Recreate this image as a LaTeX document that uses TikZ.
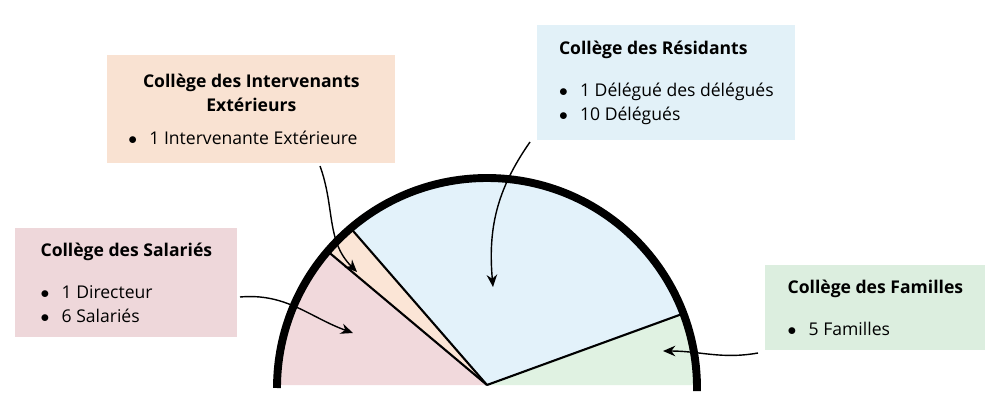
\documentclass[tikz,border=0pt]{standalone}
\usepackage{fontspec}
\setmainfont{Open Sans}
\usetikzlibrary{arrows.meta,calc}
\definecolor{peachbox}{HTML}{F9E2D2}
\definecolor{bluebox}{HTML}{E2F1F8}
\definecolor{pinkbox}{HTML}{EED7DA}
\definecolor{greenbox}{HTML}{DCEEDF}
\definecolor{pinkpart}{HTML}{F1D9DC}
\definecolor{peachpart}{HTML}{FBE5D6}
\definecolor{bluepart}{HTML}{E3F2FA}
\definecolor{greenpart}{HTML}{E0F2E2}
\tikzset{
  college/.style={anchor=north west, inner xsep=10pt, inner ysep=8pt, align=left,
    font=\fontsize{10}{14}\selectfont},
  pointer/.style={-{Stealth[length=7pt,width=6pt]}, line width=0.8pt}
}
\newcommand{\itm}[1]{$\bullet$\hspace{7pt}#1}
\begin{document}
\begin{tikzpicture}[x=0.02cm, y=-0.02cm]
  \useasboundingbox (0,0) rectangle (1000,405);
  % half disc (y axis points down, so angles go the other way)
  \coordinate (O) at (487,385);
  \fill[pinkpart] (O) -- (277,385) arc[start angle=180, end angle=220, radius=210] -- cycle;
  \fill[peachpart] (O) -- ($(O)+(220:210)$) arc[start angle=220, end angle=229, radius=210] -- cycle;
  \fill[bluepart] (O) -- ($(O)+(229:210)$) arc[start angle=229, end angle=340, radius=210] -- cycle;
  \fill[greenpart] (O) -- ($(O)+(340:210)$) arc[start angle=340, end angle=360, radius=210] -- cycle;
  \foreach \a in {220,229,340}
    \draw[line width=1.2pt] (O) -- ($(O)+(\a:210)$);
  \draw[line width=4.5pt] (277,388) arc[start angle=180, end angle=360, radius=210] -- ++(0,3);
  % boxes
  \node[college, fill=peachbox, minimum width=288*0.02cm, minimum height=108*0.02cm] (ext) at (107,55)
    {\parbox{140pt}{\centering\textbf{Collège des Intervenants\\Extérieurs}}\\[10pt]\itm{1 Intervenante Extérieure}};
  \node[college, fill=bluebox, minimum width=258*0.02cm, minimum height=115*0.02cm] (res) at (537,25)
    {\textbf{Collège des Résidants}\\[10pt]\itm{1 Délégué des délégués}\\\itm{10 Délégués}};
  \node[college, fill=pinkbox, minimum width=222*0.02cm, minimum height=109*0.02cm] (sal) at (15,228)
    {\textbf{Collège des Salariés}\\[10pt]\itm{1 Directeur}\\\itm{6 Salariés}};
  \node[college, fill=greenbox, minimum width=220*0.02cm, minimum height=85*0.02cm] (fam) at (765,265)
    {\textbf{Collège des Familles}\\[10pt]\itm{5 Familles}};
  % pointers
  \coordinate (extend) at (357,272);
  \coordinate (resend) at (493,287);
  \coordinate (salend) at (353,333);
  \coordinate (famend) at (663,351);
  \draw[pointer] (320,166) to[out=-70, in=135] (extend);
  \draw[pointer] (530,142) to[out=-125, in=95] (resend);
  \draw[pointer] (240,297) to[out=5, in=160] (salend);
  \draw[pointer] (758,353) to[out=190, in=0] (famend);
\end{tikzpicture}
\end{document}
